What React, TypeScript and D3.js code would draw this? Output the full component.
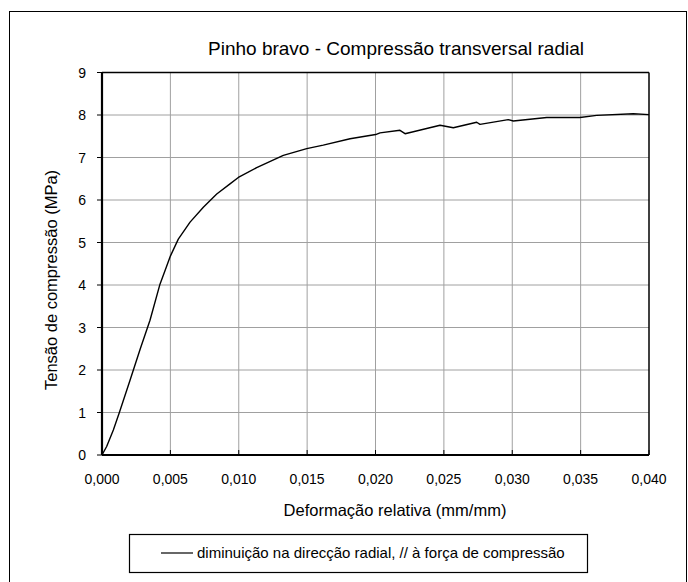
import React from "react";
import * as d3 from "d3";

// strain (mm/mm) and stress (MPa)
const strain = [
  0, 0.00034, 0.00083, 0.00127, 0.00205, 0.0028, 0.00351, 0.00424, 0.0047, 0.005,
  0.00558, 0.00644, 0.00741, 0.00839, 0.00936, 0.00997, 0.01131, 0.01326, 0.01497,
  0.01618, 0.01814, 0.02001, 0.02033, 0.02179, 0.02216, 0.02472, 0.02569, 0.0274,
  0.02764, 0.02971, 0.03008, 0.03252, 0.03495, 0.03617, 0.03885, 0.04,
];
const stress = [
  0, 0.2, 0.59, 1.0, 1.76, 2.5, 3.17, 4.02, 4.42, 4.68,
  5.08, 5.48, 5.83, 6.14, 6.38, 6.53, 6.76, 7.05, 7.21,
  7.29, 7.44, 7.54, 7.58, 7.64, 7.56, 7.76, 7.7, 7.83,
  7.78, 7.89, 7.86, 7.94, 7.94, 7.99, 8.03, 8.01,
];

const xTicks = [0, 0.005, 0.01, 0.015, 0.02, 0.025, 0.03, 0.035, 0.04];
const yTicks = [0, 1, 2, 3, 4, 5, 6, 7, 8, 9];

const title = "Pinho bravo - Compressão transversal radial";
const xTitle = "Deformação relativa (mm/mm)";
const yTitle = "Tensão de compressão (MPa)";
const seriesName = "diminuição na direcção radial, // à força de compressão";

const W = 688;
const H = 582;
const FONT = "'Liberation Sans', Arial, sans-serif";

export default function App() {
  const x = d3.scaleLinear().domain([0, 0.04]).range([102, 649]);
  const y = d3.scaleLinear().domain([0, 9]).range([455, 72.5]);

  const pts = strain.map((s, i) => [s, stress[i]] as [number, number]);
  const line = d3
    .line<[number, number]>()
    .x((d) => x(d[0]))
    .y((d) => y(d[1]));

  const fmt = (v: number) => v.toFixed(3).replace(".", ",");

  return (
    <svg
      width={W}
      height={H}
      style={{ position: "absolute", left: 0, top: 0, background: "#fff" }}
      fontFamily={FONT}
    >
      {/* outer chart frame */}
      <rect x={9.5} y={11.5} width={677} height={600} fill="#fff" stroke="#000" strokeWidth={1} />

      <text x={396} y={55} textAnchor="middle" fontSize={19}>
        {title}
      </text>

      {/* gridlines */}
      {xTicks.slice(1, -1).map((t) => (
        <line key={"gx" + t} x1={x(t)} x2={x(t)} y1={y(9)} y2={y(0)} stroke="#a0a0a0" strokeWidth={1} />
      ))}
      {yTicks.slice(1, -1).map((t) => (
        <line key={"gy" + t} x1={x(0)} x2={x(0.04)} y1={y(t)} y2={y(t)} stroke="#a0a0a0" strokeWidth={1} />
      ))}

      {/* plot border */}
      <line x1={x(0)} x2={x(0.04)} y1={y(9)} y2={y(9)} stroke="#000" strokeWidth={1.5} />
      <line x1={x(0.04)} x2={x(0.04)} y1={y(9)} y2={y(0)} stroke="#000" strokeWidth={1.5} />

      {/* data */}
      <path d={line(pts) ?? ""} fill="none" stroke="#000" strokeWidth={1.4} strokeLinejoin="round" />

      {/* axes */}
      <line x1={x(0)} x2={x(0.04)} y1={y(0)} y2={y(0)} stroke="#000" strokeWidth={2.2} />
      <line x1={x(0)} x2={x(0)} y1={y(9)} y2={y(0)} stroke="#000" strokeWidth={2.2} />

      {yTicks.map((t) => (
        <g key={"ty" + t}>
          <line x1={x(0) - 5} x2={x(0)} y1={y(t)} y2={y(t)} stroke="#000" strokeWidth={1} />
          <text x={86} y={y(t)} dy="0.36em" textAnchor="end" fontSize={14}>
            {t}
          </text>
        </g>
      ))}
      {xTicks.map((t) => (
        <g key={"tx" + t}>
          <line x1={x(t)} x2={x(t)} y1={y(0) - 5} y2={y(0)} stroke="#000" strokeWidth={1} />
          <text x={x(t)} y={484} textAnchor="middle" fontSize={14}>
            {fmt(t)}
          </text>
        </g>
      ))}

      <text x={395} y={516} textAnchor="middle" fontSize={16.5}>
        {xTitle}
      </text>
      <text transform="translate(57,280) rotate(-90)" textAnchor="middle" fontSize={16.5}>
        {yTitle}
      </text>

      {/* legend */}
      <rect x={129.5} y={534.5} width={458} height={38} fill="#fff" stroke="#000" strokeWidth={1.2} />
      <line x1={161} x2={193} y1={553} y2={553} stroke="#000" strokeWidth={1.2} />
      <text x={197} y={558} fontSize={15}>
        {seriesName}
      </text>
    </svg>
  );
}
